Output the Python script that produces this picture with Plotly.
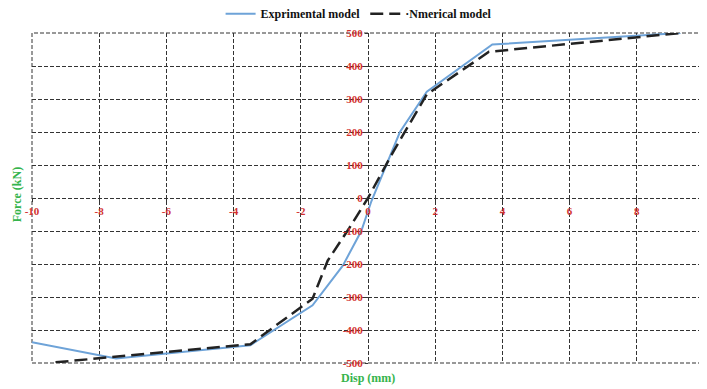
import plotly.graph_objects as go

# Experimental model (blue)
exp_disp = [-10.0, -7.5, -3.5, -1.65, -0.75, -0.2, 0.1, 0.95, 1.75, 3.7, 9.3]
exp_force = [-437, -486, -446, -325, -205, -100, -10, 200, 322, 465, 500]

# Numerical model (black dashed)
num_disp = [-9.3, -7.5, -3.5, -1.65, -1.2, -0.55, 0.0, 0.75, 1.75, 3.6, 9.3]
num_force = [-498, -481, -443, -305, -190, -90, 0, 140, 314, 443, 500]

x_ticks = [-10, -8, -6, -4, -2, 0, 2, 4, 6, 8, 10]
y_ticks = [-500, -400, -300, -200, -100, 0, 100, 200, 300, 400, 500]

RED = "#d2312f"
GREEN = "#35b44c"
FONT = "Liberation Serif"
GRID = "#333333"

fig = go.Figure()
fig.add_trace(go.Scatter(x=exp_disp, y=exp_force, mode="lines",
                         name="Exprimental model",
                         line=dict(color="#6ea3d8", width=2)))
fig.add_trace(go.Scatter(x=num_disp, y=num_force, mode="lines",
                         name="·Nmerical model",
                         line=dict(color="#222222", width=2.5, dash="13px,6px")))

grid = dict(showgrid=True, gridcolor=GRID, gridwidth=1, griddash="4px,2px",
            zeroline=False, showline=False, automargin=False)

# the page body adds an 8px offset, so the figure is 8px smaller than the window
fig.update_layout(
    width=699, height=381,
    margin=dict(l=24, r=3, t=25, b=26, autoexpand=False),
    paper_bgcolor="white", plot_bgcolor="white",
    font=dict(family=FONT),
    showlegend=True,
    legend=dict(orientation="h", x=0.486, xanchor="center", y=0.985, yanchor="middle",
                yref="container",
                font=dict(family=FONT, size=12, color="#111111", weight="bold"),
                bgcolor="rgba(0,0,0,0)", itemwidth=30),
    xaxis=dict(range=[-10, 10], tickvals=x_ticks, ticktext=[str(v) for v in x_ticks],
               anchor="free", position=0.5, side="bottom",
               ticks="outside", ticklen=3, tickcolor="#333",
               tickfont=dict(family=FONT, size=11, color=RED, weight="bold"),
               **grid),
    yaxis=dict(range=[-500, 500], tickvals=y_ticks, ticktext=[str(v) for v in y_ticks],
               anchor="free", position=0.5, side="left",
               ticks="outside", ticklen=3, tickcolor="#333",
               tickfont=dict(family=FONT, size=11, color=RED, weight="bold"),
               **grid),
    shapes=[dict(type="rect", xref="paper", yref="paper", x0=0, x1=1, y0=0, y1=1,
                 line=dict(color=GRID, width=1, dash="4px,2px"), layer="below")],
    annotations=[
        dict(text="Disp (mm)", x=0.5, y=-0.045, xref="paper", yref="paper",
             xanchor="center", yanchor="middle", showarrow=False,
             font=dict(family=FONT, size=12, color=GREEN, weight="bold")),
        dict(text="Force (kN)", x=-0.023, y=0.51, xref="paper", yref="paper",
             xanchor="center", yanchor="middle", textangle=-90, showarrow=False,
             font=dict(family=FONT, size=12, color=GREEN, weight="bold")),
    ],
)

fig.write_html("out.html")
